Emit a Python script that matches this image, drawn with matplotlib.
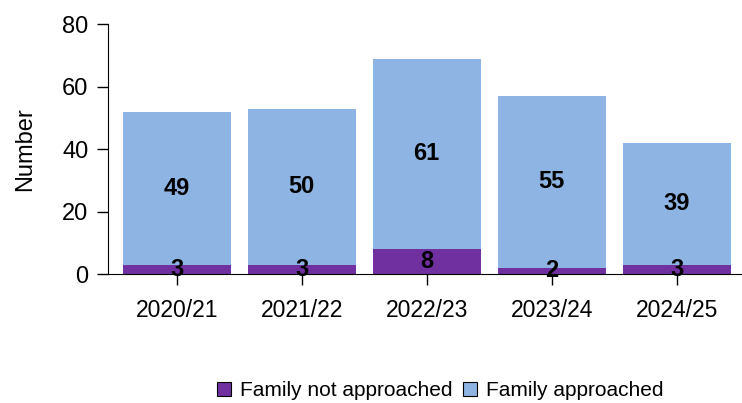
import matplotlib
matplotlib.use("Agg")
import matplotlib.pyplot as plt
import numpy as np

plt.rcParams["font.family"] = ["Liberation Sans", "DejaVu Sans"]

years = ["2020/21", "2021/22", "2022/23", "2023/24", "2024/25"]
not_approached = [3, 3, 8, 2, 3]
approached = [49, 50, 61, 55, 39]

purple = "#7030A0"
blue = "#8EB4E3"

fig = plt.figure(figsize=(7.42, 4.03), dpi=100)
ax = fig.add_axes([0.1456, 0.32, 0.854, 0.62])

x = np.arange(len(years))
w = 0.864
ax.bar(x, not_approached, w, color=purple, label="Family not approached")
ax.bar(x, approached, w, bottom=not_approached, color=blue, label="Family approached")

# segment labels in the middle of each part
for i in range(len(years)):
    ax.text(x[i], not_approached[i] / 2, str(not_approached[i]), ha="center", va="center",
            fontsize=17, fontweight="bold", color="black")
    ax.text(x[i], not_approached[i] + approached[i] / 2, str(approached[i]), ha="center",
            va="center", fontsize=17, fontweight="bold", color="black")

ax.set_ylim(0, 80)
ax.set_xlim(-0.55, 4.52)
ax.set_yticks([0, 20, 40, 60, 80])
ax.set_xticks(x)
ax.set_xticklabels(years)
ax.tick_params(axis="y", labelsize=17, length=8, width=1, pad=6)
ax.tick_params(axis="x", labelsize=16.5, length=8, width=1, pad=10)
ax.set_ylabel("Number", fontsize=17, labelpad=19)
for s in ["top", "right"]:
    ax.spines[s].set_visible(False)

handles = [plt.Rectangle((0, 0), 1, 1, facecolor=purple, edgecolor="black", linewidth=0.8),
           plt.Rectangle((0, 0), 1, 1, facecolor=blue, edgecolor="black", linewidth=0.8)]
fig.legend(handles, ["Family not approached", "Family approached"], loc="center",
           bbox_to_anchor=(0.593, 0.03), ncol=2, frameon=False, fontsize=15,
           handlelength=0.7, handleheight=0.7, handletextpad=0.4, columnspacing=0.5,
           borderpad=0.2)

fig.savefig("out.png", dpi=100)
